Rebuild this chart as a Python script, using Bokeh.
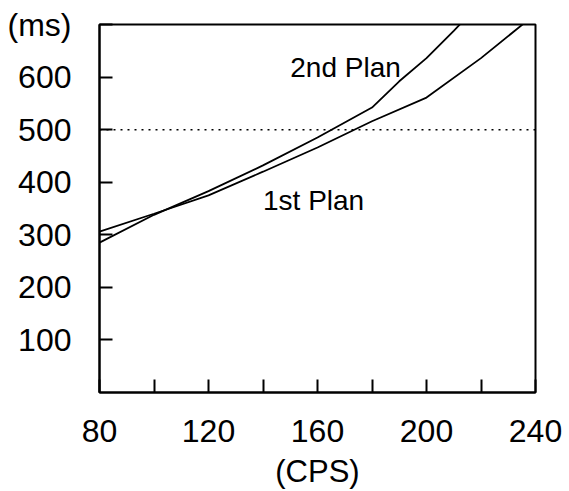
from bokeh.plotting import figure
from bokeh.models import FixedTicker, Label, Range1d, Span
from bokeh.embed import file_html
from bokeh.resources import INLINE

# ---- data ----
plan1_cps = [80, 100, 120, 140, 160, 180, 200, 220, 240]
plan1_ms = [306, 340, 375, 420, 466, 516, 561, 636, 720]

plan2_cps = [80, 100, 120, 140, 160, 180, 190, 200, 210, 220]
plan2_ms = [285, 338, 383, 432, 485, 542, 592, 636, 688, 742]

threshold_ms = 500

x_major_ticks = [80, 120, 160, 200, 240]
x_minor_ticks = [100, 140, 180, 220]
y_ticks = [100, 200, 300, 400, 500, 600, 700]
y_tick_labels = {700: "(ms)"}

series_labels = ["1st Plan", "2nd Plan"]
x_title = "(CPS)"

FONT = "Liberation Sans"

p = figure(width=569, height=491,
           x_range=Range1d(80, 240), y_range=Range1d(0, 700),
           output_backend="svg", toolbar_location=None,
           min_border_left=99, min_border_right=34,
           min_border_top=24, min_border_bottom=96)

p.xgrid.visible = False
p.ygrid.visible = False
p.background_fill_color = "white"
p.border_fill_color = "white"
p.outline_line_color = "black"
p.outline_line_width = 2
p.outline_line_alpha = 1

p.xaxis.ticker = FixedTicker(ticks=x_major_ticks, minor_ticks=x_minor_ticks)
p.yaxis.ticker = FixedTicker(ticks=y_ticks, minor_ticks=[])
p.yaxis.major_label_overrides = y_tick_labels

for ax in (p.xaxis[0], p.yaxis[0]):
    ax.axis_line_color = "black"
    ax.axis_line_width = 2
    ax.major_tick_in = 13
    ax.major_tick_out = 0
    ax.major_tick_line_width = 2
    ax.major_tick_line_color = "black"
    ax.minor_tick_in = 13
    ax.minor_tick_out = 0
    ax.minor_tick_line_width = 2
    ax.minor_tick_line_color = "black"
    ax.major_label_text_font = FONT
    ax.major_label_text_font_size = "32px"
    ax.major_label_text_color = "black"

p.xaxis.major_label_standoff = 27
p.yaxis.major_label_standoff = 28

p.xaxis.axis_label = x_title
p.xaxis.axis_label_text_font = FONT
p.xaxis.axis_label_text_font_size = "31px"
p.xaxis.axis_label_text_font_style = "normal"
p.xaxis.axis_label_text_color = "black"
p.xaxis.axis_label_standoff = 9

p.line(plan1_cps, plan1_ms, line_color="black", line_width=1.8)
p.line(plan2_cps, plan2_ms, line_color="black", line_width=1.8)

p.add_layout(Span(location=threshold_ms, dimension="width",
                  line_color="black", line_width=1.5, line_dash="2 5"))

p.add_layout(Label(x=150, y=619, text=series_labels[1], text_font=FONT,
                   text_font_size="28px", text_baseline="middle",
                   text_align="left", text_color="black"))
p.add_layout(Label(x=140, y=366, text=series_labels[0], text_font=FONT,
                   text_font_size="28px", text_baseline="middle",
                   text_align="left", text_color="black"))

open("out.html", "w").write(file_html(p, INLINE))
